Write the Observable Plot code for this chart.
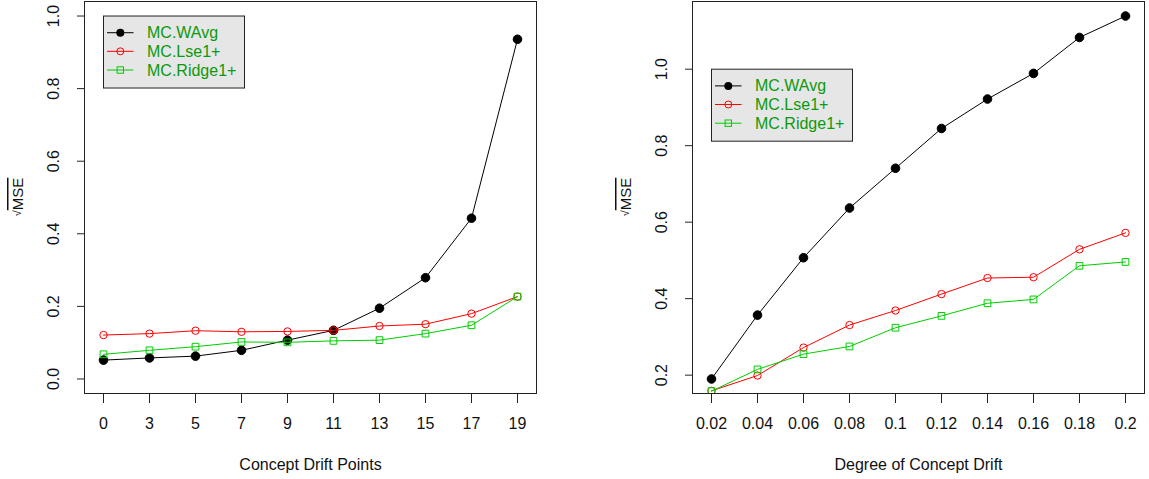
<!DOCTYPE html>
<html><head><meta charset="utf-8">
<script src="https://cdn.jsdelivr.net/npm/d3@7"></script>
<script src="https://cdn.jsdelivr.net/npm/@observablehq/plot@0.6"></script>
<style>
html,body{margin:0;padding:0;background:#fff;}
#wrap{display:flex;width:1149px;height:479px;background:#fff;}
svg{display:block}
</style></head><body><div id="wrap"></div>
<script>
const seriesNames = ["MC.WAvg", "MC.Lse1+", "MC.Ridge1+"];
const seriesColors = ["#000000", "#FF0000", "#00CD00"];
const legendTextColor = "#0B9A0B";

const leftTicks = ["0", "3", "5", "7", "9", "11", "13", "15", "17", "19"];
const leftWAvg  = [0.052, 0.058, 0.063, 0.079, 0.107, 0.134, 0.195, 0.279, 0.443, 0.936];
const leftLse   = [0.121, 0.125, 0.133, 0.130, 0.131, 0.134, 0.146, 0.151, 0.180, 0.227];
const leftRidge = [0.068, 0.079, 0.089, 0.102, 0.101, 0.105, 0.107, 0.125, 0.148, 0.227];
const leftYTicks = [0, 0.2, 0.4, 0.6, 0.8, 1.0];
const leftXLabel = "Concept Drift Points";

const rightTicks = ["0.02", "0.04", "0.06", "0.08", "0.1", "0.12", "0.14", "0.16", "0.18", "0.2"];
const rightWAvg  = [0.190, 0.357, 0.507, 0.637, 0.741, 0.845, 0.922, 0.989, 1.083, 1.139];
const rightLse   = [0.159, 0.199, 0.272, 0.331, 0.369, 0.412, 0.454, 0.456, 0.529, 0.572];
const rightRidge = [0.158, 0.215, 0.255, 0.275, 0.324, 0.355, 0.388, 0.398, 0.486, 0.496];
const rightYTicks = [0.2, 0.4, 0.6, 0.8, 1.0];
const rightXLabel = "Degree of Concept Drift";

const yLabelText = "MSE";
const FONT = "'Liberation Sans', Arial, Helvetica, sans-serif";

function table(ticks, arrays) {
  const rows = [];
  arrays.forEach((arr, s) => arr.forEach((v, i) => rows.push({x: ticks[i], y: v, s})));
  return rows;
}

function panel({ticks, arrays, yDomain, yTicks, xLabel, width, marginLeft, marginRight, legendX, legendY}) {
  const data = table(ticks, arrays);
  const styles = [
    {symbol: "circle", r: 4.3, fill: seriesColors[0], stroke: seriesColors[0]},
    {symbol: "circle", r: 3.7, fill: "none", stroke: seriesColors[1]},
    {symbol: "square", r: 3.8, fill: "none", stroke: seriesColors[2]}
  ];
  const marks = [];
  marks.push(Plot.axisX({tickSize: 10, tickFormat: () => "", label: null, stroke: "#222"}));
  marks.push(Plot.axisY({ticks: yTicks, tickSize: 7, tickFormat: () => "", label: null, stroke: "#222"}));
  marks.push(Plot.text(ticks, {x: d => d, text: d => d, frameAnchor: "bottom", dy: 30, lineAnchor: "middle", fontSize: 16, fill: "#111"}));
  marks.push(Plot.text(yTicks, {y: d => d, text: d => d.toFixed(1), frameAnchor: "left", dx: -31, rotate: -90, textAnchor: "middle", lineAnchor: "middle", fontSize: 16, fill: "#111"}));
  marks.push(Plot.text([xLabel], {text: d => d, frameAnchor: "bottom", dy: 71, lineAnchor: "middle", fontSize: 16, fill: "#111"}));
  arrays.forEach((arr, s) => {
    const d = data.filter(r => r.s === s);
    marks.push(Plot.line(d, {x: "x", y: "y", stroke: seriesColors[s], strokeWidth: 1, clip: true}));
    marks.push(Plot.dot(d, {x: "x", y: "y", r: styles[s].r, symbol: styles[s].symbol, fill: styles[s].fill, stroke: styles[s].stroke, strokeWidth: 1, clip: true}));
  });
  marks.push(Plot.frame({stroke: "#222", strokeWidth: 1}));
  marks.push((index, scales, values, dims) => {
    const g = d3.create("svg:g");
    const cx = dims.marginLeft - 67, cy = (dims.marginTop + dims.height - dims.marginBottom) / 2;
    const t = g.append("text")
      .attr("transform", `translate(${cx},${cy}) rotate(-90)`)
      .attr("text-anchor", "middle").attr("dominant-baseline", "central")
      .attr("font-size", 15).attr("fill", "#111").attr("font-family", FONT);
    t.append("tspan").attr("font-size", 11).text("\u221A");
    t.append("tspan").style("text-decoration", "overline").text(yLabelText);
    return g.node();
  });
  marks.push((index, scales) => {
    const x0 = scales.x(legendX), y0 = scales.y(legendY);
    const g = d3.create("svg:g").attr("font-family", FONT).attr("text-anchor", "start");
    g.append("rect").attr("x", x0 + 0.5).attr("y", y0 + 0.5).attr("width", 141).attr("height", 72)
      .attr("fill", "#E6E6E6").attr("stroke", "#222").attr("stroke-width", 1);
    const rowY = [17.2, 35.8, 54.5];
    seriesNames.forEach((name, s) => {
      const yy = y0 + rowY[s];
      g.append("line").attr("x1", x0 + 4).attr("x2", x0 + 30.5).attr("y1", yy).attr("y2", yy)
        .attr("stroke", seriesColors[s]).attr("stroke-width", 1);
      const mx = x0 + 17.3;
      if (s === 0) g.append("circle").attr("cx", mx).attr("cy", yy).attr("r", 4).attr("fill", seriesColors[0]);
      else if (s === 1) g.append("circle").attr("cx", mx).attr("cy", yy).attr("r", 3.5).attr("fill", "none").attr("stroke", seriesColors[1]);
      else g.append("rect").attr("x", mx - 3.2).attr("y", yy - 3.2).attr("width", 6.4).attr("height", 6.4).attr("fill", "none").attr("stroke", seriesColors[2]);
      g.append("text").attr("x", x0 + 44).attr("y", yy).attr("dominant-baseline", "central")
        .attr("text-anchor", "start")
        .attr("font-size", 16).attr("fill", legendTextColor).text(name);
    });
    return g.node();
  });

  return Plot.plot({
    width, height: 479,
    marginLeft, marginRight, marginTop: 1, marginBottom: 86,
    style: {background: "white", fontFamily: FONT, overflow: "visible"},
    x: {type: "point", domain: ticks, padding: 0.36, axis: null},
    y: {domain: yDomain, axis: null},
    marks
  });
}

const wrap = document.getElementById("wrap");
wrap.appendChild(panel({
  ticks: leftTicks, arrays: [leftWAvg, leftLse, leftRidge],
  yDomain: [-0.04, 1.04], yTicks: leftYTicks, xLabel: leftXLabel,
  width: 574, marginLeft: 84, marginRight: 38, legendX: leftTicks[0], legendY: 1.0
}));
wrap.appendChild(panel({
  ticks: rightTicks, arrays: [rightWAvg, rightLse, rightRidge],
  yDomain: [0.152, 1.177], yTicks: rightYTicks, xLabel: rightXLabel,
  width: 575, marginLeft: 118, marginRight: 5, legendX: rightTicks[0], legendY: 1.0
}));
</script></body></html>
